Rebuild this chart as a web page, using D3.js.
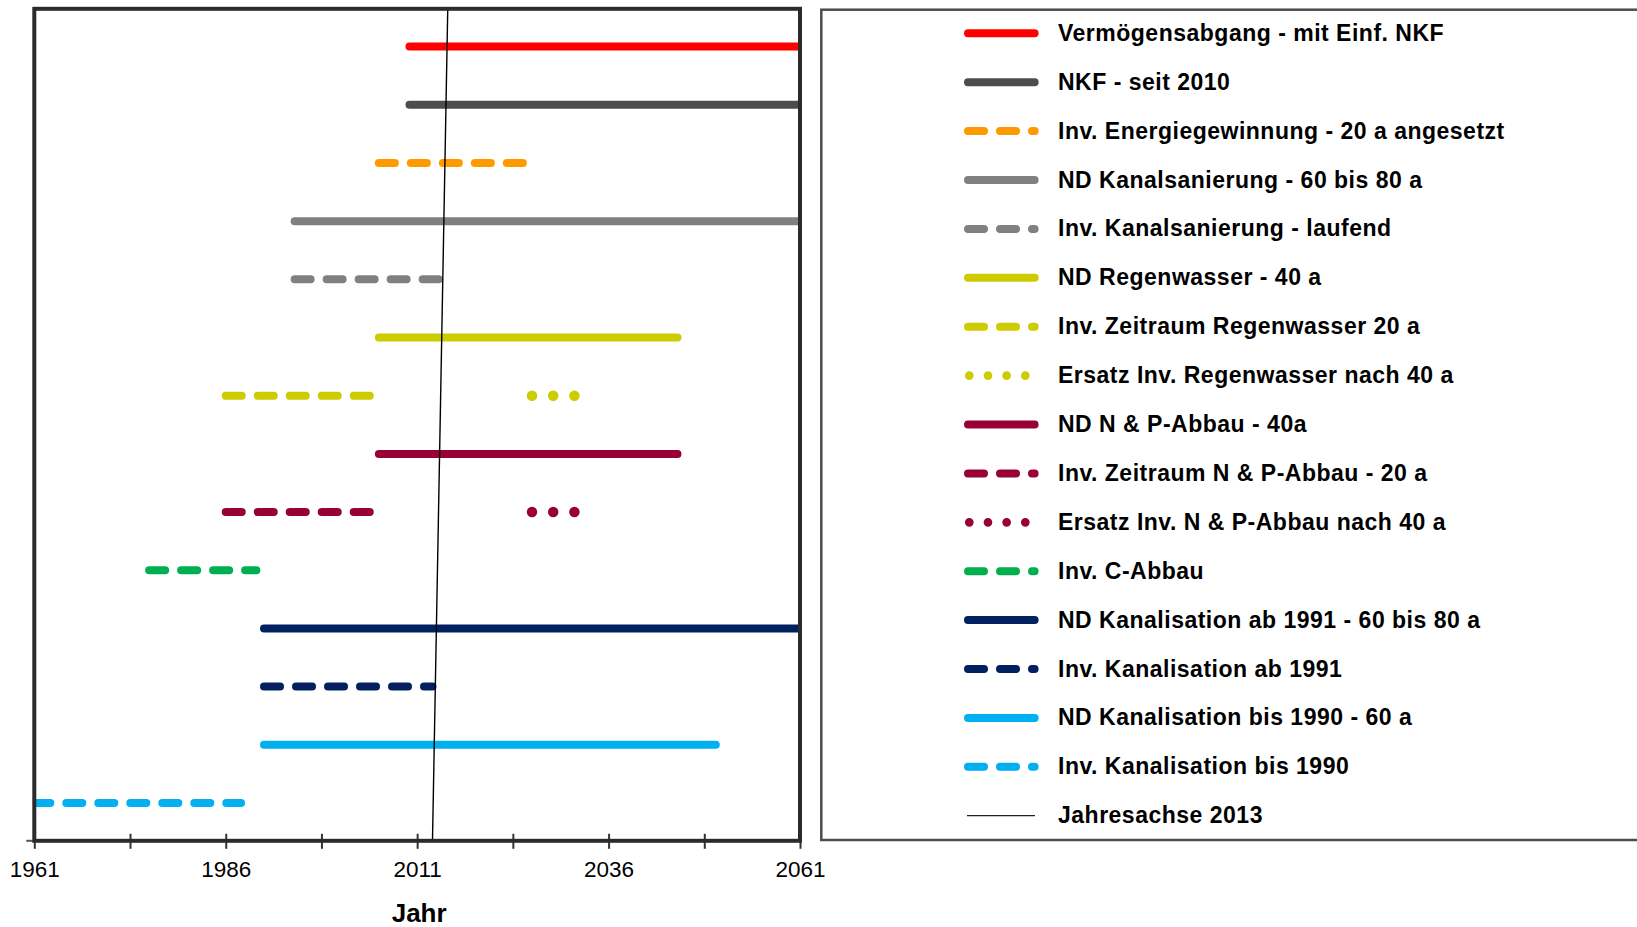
<!DOCTYPE html>
<html>
<head>
<meta charset="utf-8">
<script src="https://cdn.jsdelivr.net/npm/d3@7"></script>
<style>
  body { margin: 0; background: #fff; }
  text { font-family: "Liberation Sans", Arial, sans-serif; fill: #000; }
</style>
</head>
<body>
<div id="chart"></div>
<script>

// --- data ---
const seriesNames = [
    "Vermögensabgang - mit Einf. NKF",
    "NKF - seit 2010",
    "Inv. Energiegewinnung - 20 a angesetzt",
    "ND Kanalsanierung - 60 bis 80 a",
    "Inv. Kanalsanierung - laufend",
    "ND Regenwasser - 40 a",
    "Inv. Zeitraum Regenwasser 20 a",
    "Ersatz Inv. Regenwasser nach 40 a",
    "ND N & P-Abbau - 40a",
    "Inv. Zeitraum N & P-Abbau - 20 a",
    "Ersatz Inv. N & P-Abbau nach 40 a",
    "Inv. C-Abbau",
    "ND Kanalisation ab 1991 - 60 bis 80 a",
    "Inv. Kanalisation ab 1991",
    "ND Kanalisation bis 1990 - 60 a",
    "Inv. Kanalisation bis 1990"
];
const seriesStart = [2010, 2010, 2006, 1995, 1995, 2006, 1986, 2026, 2006, 1986, 2026, 1976, 1991, 1991, 1991, 1961];
const seriesEnd   = [2061, 2061, 2025, 2061, 2014, 2045, 2005, 2032, 2045, 2005, 2032, 1990, 2061, 2013, 2050, 1988];
// row of each series, 0 = top
const seriesRow   = [0, 1, 2, 3, 4, 5, 6, 6, 7, 8, 8, 9, 10, 11, 12, 13];
const rows = d3.range(14);

const yearTicks = d3.range(1961, 2062, 12.5);
const yearLabels = [1961, 1986, 2011, 2036, 2061];

// year axis line, bottom and top end
const jahresachseName = "Jahresachse 2013";
const jahresachseYears = [2013, 2015];

// --- styles ---
const seriesColor = ["#ff0000", "#4d4d4d", "#ff9900", "#808080", "#808080", "#cccc00", "#cccc00", "#cccc00",
                     "#990033", "#990033", "#990033", "#00b050", "#002060", "#002060", "#00b0f0", "#00b0f0"];
const seriesDash  = ["solid", "solid", "dash", "solid", "dash", "solid", "dash", "dot",
                     "solid", "dash", "dot", "dash", "solid", "dash", "solid", "dash"];

const W = 1637, H = 927;
const plot = {left: 34.3, right: 800, top: 8.8, bottom: 840.8};

const svg = d3.select("#chart").append("svg")
    .attr("width", W)
    .attr("height", H);

svg.append("rect").attr("width", W).attr("height", H).attr("fill", "#fff");

const x = d3.scaleLinear().domain([1961, 2061]).range([plot.left, plot.right]);
const y = d3.scalePoint().domain(rows).range([plot.top, plot.bottom]).padding(0.65);

svg.append("clipPath").attr("id", "plotclip")
    .append("rect")
    .attr("x", plot.left).attr("y", plot.top)
    .attr("width", plot.right - plot.left).attr("height", plot.bottom - plot.top);

function applyDash(sel, kind, legend){
    if (kind == "dash") sel.attr("stroke-dasharray", "16,16");
    if (kind == "dot") sel.attr("stroke-dasharray", legend ? "0,18.67" : "0,21.2");
}

const line = d3.line();

// series
const marks = svg.append("g").attr("clip-path", "url(#plotclip)");
seriesNames.forEach(function(name, i){
    let path = marks.append("path")
	.attr("d", line([[x(seriesStart[i]), y(seriesRow[i])], [x(seriesEnd[i]), y(seriesRow[i])]]))
	.attr("fill", "none")
	.attr("stroke", seriesColor[i])
	.attr("stroke-width", seriesDash[i] == "dot" ? 10.5 : 8)
	.attr("stroke-linecap", "round");
    applyDash(path, seriesDash[i], false);
});

// Jahresachse 2013 (slightly slanted in the original)
svg.append("path")
    .attr("d", line([[x(jahresachseYears[0]), plot.bottom + 1.5], [x(jahresachseYears[1]), plot.top - 1.5]]))
    .attr("stroke", "#000")
    .attr("stroke-width", 1.4)
    .attr("fill", "none");

// x axis
const xAxis = d3.axisBottom(x)
    .tickValues(yearTicks)
    .tickSize(8)
    .tickFormat(d => yearLabels.includes(d) ? d : "");
const ax = svg.append("g")
    .attr("transform", `translate(0,${plot.bottom})`)
    .call(xAxis);
ax.select(".domain").remove();
ax.selectAll(".tick line")
    .attr("y1", -7).attr("y2", 8)
    .attr("stroke", "#333").attr("stroke-width", 2);
ax.selectAll(".tick text")
    .attr("y", 36).attr("dy", null)
    .style("font-family", '"Liberation Sans", Arial, sans-serif')
    .style("font-size", "22.5px")
    .attr("fill", "#000");

// little y tick at the bottom
svg.append("line")
    .attr("x1", plot.left - 8).attr("x2", plot.left)
    .attr("y1", plot.bottom).attr("y2", plot.bottom)
    .attr("stroke", "#555").attr("stroke-width", 2);

// plot frame
svg.append("rect")
    .attr("x", plot.left).attr("y", plot.top)
    .attr("width", plot.right - plot.left).attr("height", plot.bottom - plot.top)
    .attr("fill", "none")
    .attr("stroke", "#2b2b2b")
    .attr("stroke-width", 4);

svg.append("text")
    .attr("x", (plot.left + plot.right) / 2 + 2)
    .attr("y", 921.5)
    .attr("text-anchor", "middle")
    .style("font-size", "26px")
    .style("font-weight", "bold")
    .text("Jahr");

// legend
const legend = svg.append("g");
legend.append("rect")
    .attr("x", 821.3).attr("y", 9.7)
    .attr("width", 900).attr("height", 840 - 9.7)
    .attr("fill", "none")
    .attr("stroke", "#4d4d4d")
    .attr("stroke-width", 2.5);

const legendY = d3.scaleLinear().domain([0, 16]).range([33.3, 815.7]);
const legendItems = seriesNames.concat([jahresachseName]);

legendItems.forEach(function(name, i){
    let ly = legendY(i);
    if (i < seriesNames.length) {
	let dotted = seriesDash[i] == "dot";
	let l = legend.append("path")
	    .attr("d", line([[dotted ? 969.3 : 968, ly], [1034.6, ly]]))
	    .attr("stroke", seriesColor[i])
	    .attr("stroke-width", dotted ? 8.7 : 8)
	    .attr("stroke-linecap", "round");
	applyDash(l, seriesDash[i], true);
    } else {
	legend.append("path")
	    .attr("d", line([[967, ly], [1035, ly]]))
	    .attr("stroke", "#222")
	    .attr("stroke-width", 1.3);
    }
    legend.append("text")
	.attr("x", 1058)
	.attr("y", ly + 7.5)
	.style("font-size", "23px")
	.style("font-weight", "bold")
	.style("letter-spacing", "0.5px")
	.text(name);
});

</script>
</body>
</html>
